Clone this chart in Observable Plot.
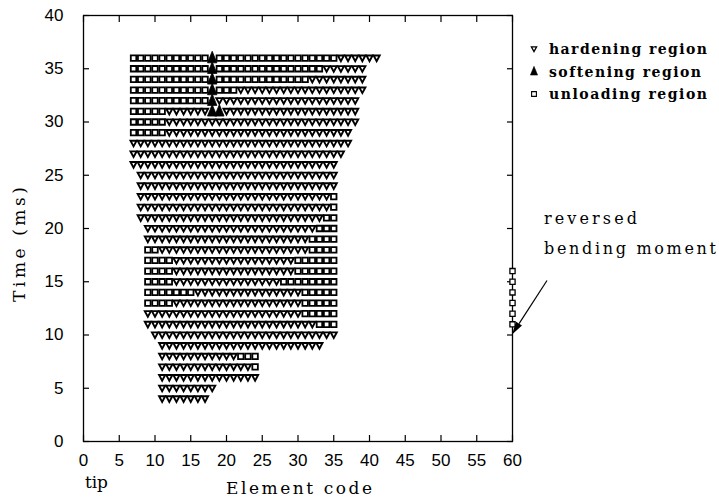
<!DOCTYPE html>
<html>
<head>
<meta charset="utf-8">
<script src="https://cdn.jsdelivr.net/npm/d3@7"></script>
<script src="https://cdn.jsdelivr.net/npm/@observablehq/plot@0.6"></script>
<style>
  html, body { margin: 0; padding: 0; background: #fff; }
  #chart { width: 719px; height: 499px; }
</style>
</head>
<body>
<div id="chart"></div>
<script>
// ---- axis ticks ----
const elementTicks = [0, 5, 10, 15, 20, 25, 30, 35, 40, 45, 50, 55, 60];
const timeTicks = [0, 5, 10, 15, 20, 25, 30, 35, 40];

// ---- runs of elements per time step: [time (ms), first element, last element] ----
const hardeningRuns = [
  [36, 36, 41], [35, 34, 39], [34, 32, 39], [33, 22, 39], [32, 19, 38],
  [31, 12, 17], [31, 20, 38], [30, 12, 38], [29, 12, 37], [28, 7, 37],
  [27, 7, 36], [26, 7, 35], [25, 8, 35], [24, 8, 35], [23, 8, 34],
  [22, 8, 34], [21, 8, 33], [20, 9, 32], [19, 9, 31], [18, 11, 31],
  [17, 13, 29], [16, 13, 29], [15, 13, 27], [14, 16, 30], [13, 13, 30],
  [12, 9, 30], [11, 9, 32], [10, 10, 35], [9, 11, 33], [8, 11, 21],
  [7, 11, 23], [6, 11, 24], [5, 11, 18], [4, 11, 17]
];
const softeningRuns = [
  [36, 18, 18], [35, 18, 18], [34, 18, 18], [33, 18, 18], [32, 18, 18], [31, 18, 19]
];
const unloadingRuns = [
  [36, 7, 17], [36, 19, 35], [35, 7, 17], [35, 19, 33], [34, 7, 17], [34, 19, 31],
  [33, 7, 17], [33, 19, 21], [32, 7, 17], [31, 7, 11], [30, 7, 11], [29, 7, 11],
  [23, 35, 35], [22, 35, 35], [21, 34, 35], [20, 33, 35], [19, 32, 35],
  [18, 9, 10], [18, 32, 35], [17, 9, 12], [17, 30, 35], [16, 9, 12], [16, 30, 35],
  [15, 9, 12], [15, 28, 35], [14, 9, 15], [14, 31, 35], [13, 9, 12], [13, 31, 35],
  [12, 31, 35], [11, 33, 35], [8, 22, 24], [7, 24, 24]
];
// reversed bending moment at the last element
const reversedElement = [60];
const reversedTimes = [11, 12, 13, 14, 15, 16];
const reversedArrowTime = [10];

const legendLabels = ["hardening region", "softening region", "unloading region"];
const annotationLines = ["reversed", "bending moment"];

// ---- expand runs into one record per element ----
function expand(runs) {
  const out = [];
  for (const [time, a, b] of runs) for (let e = a; e <= b; e++) out.push({time, element: e});
  return out;
}
const hardPts = expand(hardeningRuns);
const softPts = expand(softeningRuns);
const unloadPts = expand(unloadingRuns);
const reversedPts = reversedTimes.map(t => ({time: t, element: reversedElement[0]}));

// ---- symbols ----
const triDown = {draw(ctx, size) { const r = Math.sqrt(size / Math.PI);
  ctx.moveTo(-r, -0.85 * r); ctx.lineTo(r, -0.85 * r); ctx.lineTo(0, r); ctx.closePath(); }};
const triUp = {draw(ctx, size) { const r = Math.sqrt(size / Math.PI);
  ctx.moveTo(0, -1.45 * r); ctx.lineTo(r, r); ctx.lineTo(-r, r); ctx.closePath(); }};
const square = {draw(ctx, size) { const r = Math.sqrt(size / Math.PI);
  ctx.rect(-r, -r, 2 * r, 2 * r); }};

const chart = Plot.plot({
  width: 719,
  height: 499,
  marginLeft: 83,
  marginRight: 207,
  marginTop: 15,
  marginBottom: 58,
  x: {domain: [0, 60]},
  y: {domain: [0, 40]},
  style: {background: "white", color: "black", fontFamily: "'Liberation Sans', Arial, sans-serif", fontSize: "17px"},
  marks: [
    Plot.axisX(elementTicks, {anchor: "bottom", tickSize: -6, tickPadding: 18, label: null, strokeWidth: 1.2}),
    Plot.axisX(elementTicks, {anchor: "top", tickSize: -6, tickFormat: () => "", label: null, strokeWidth: 1.2}),
    Plot.axisY(timeTicks, {anchor: "left", tickSize: -6, tickPadding: 26, label: null, strokeWidth: 1.2}),
    Plot.axisY(timeTicks, {anchor: "right", tickSize: -6, tickFormat: () => "", label: null, strokeWidth: 1.2}),
    Plot.frame({stroke: "black", strokeWidth: 1.3}),
    Plot.dot(hardPts, {x: "element", y: "time", symbol: triDown, r: 3.05, fill: "white", stroke: "black", strokeWidth: 1.9}),
    Plot.dot(unloadPts, {x: "element", y: "time", symbol: square, r: 2.75, fill: "white", stroke: "black", strokeWidth: 1.8}),
    Plot.dot(reversedPts, {x: "element", y: "time", symbol: square, r: 2.6, fill: "white", stroke: "black", strokeWidth: 1.3}),
    Plot.dot(softPts, {x: "element", y: "time", symbol: triUp, r: 4.7, fill: "black", stroke: "black", strokeWidth: 0.8})
  ]
});
document.getElementById("chart").appendChild(chart);

// ---- text, legend and arrow drawn into the same SVG ----
const svg = d3.select(chart);
const sx = chart.scale("x"), sy = chart.scale("y");
const serif = "'DejaVu Serif', 'Liberation Serif', serif";
const g = svg.append("g").attr("font-family", serif).attr("fill", "black").attr("text-anchor", "start");

function fitText(sel, width) { sel.attr("textLength", width).attr("lengthAdjust", "spacing"); return sel; }

fitText(g.append("text").attr("x", 226).attr("y", 494).attr("font-size", 17).text("Element code"), 146);
fitText(g.append("text").attr("x", 85).attr("y", 488).attr("font-size", 17).text("tip"), 23);
fitText(g.append("text").attr("transform", "translate(25,302) rotate(-90)").attr("font-size", 17).text("Time (ms)"), 115);

// annotation
fitText(g.append("text").attr("x", 544).attr("y", 224).attr("font-size", 16).text(annotationLines[0]), 93);
fitText(g.append("text").attr("x", 544).attr("y", 254).attr("font-size", 16).text(annotationLines[1]), 172);

// arrow to the reversed moment point
const tipX = sx.apply(reversedElement[0]), tipY = sy.apply(reversedArrowTime[0]);
const startX = tipX + 35, startY = tipY - 54;
const ang = Math.atan2(tipY - startY, tipX - startX);
const headLen = 13, headW = 3.5;
const bx = tipX - headLen * Math.cos(ang), by = tipY - headLen * Math.sin(ang);
svg.append("line").attr("x1", startX).attr("y1", startY).attr("x2", bx).attr("y2", by)
  .attr("stroke", "black").attr("stroke-width", 1.2);
svg.append("path")
  .attr("d", `M${tipX},${tipY}L${bx - headW * Math.sin(ang)},${by + headW * Math.cos(ang)}L${bx + headW * Math.sin(ang)},${by - headW * Math.cos(ang)}Z`)
  .attr("fill", "black");

// legend
const legendSymbols = [
  {sym: triDown, r: 2.6, fill: "white", sw: 1.3},
  {sym: triUp, r: 3.6, fill: "black", sw: 0.5},
  {sym: square, r: 2.4, fill: "white", sw: 1.1}
];
const legendTop = 49, legendStep = 22.5;
legendLabels.forEach((label, i) => {
  const cy = legendTop + i * legendStep;
  const s = legendSymbols[i];
  svg.append("path").attr("transform", `translate(534,${cy})`)
    .attr("d", d3.symbol(s.sym, s.r * s.r * Math.PI)())
    .attr("fill", s.fill).attr("stroke", "black").attr("stroke-width", s.sw);
  fitText(g.append("text").attr("x", 549).attr("y", cy + 5).attr("font-size", 14).attr("font-weight", "bold").text(label), i === 1 ? 152 : 158);
});
</script>
</body>
</html>
